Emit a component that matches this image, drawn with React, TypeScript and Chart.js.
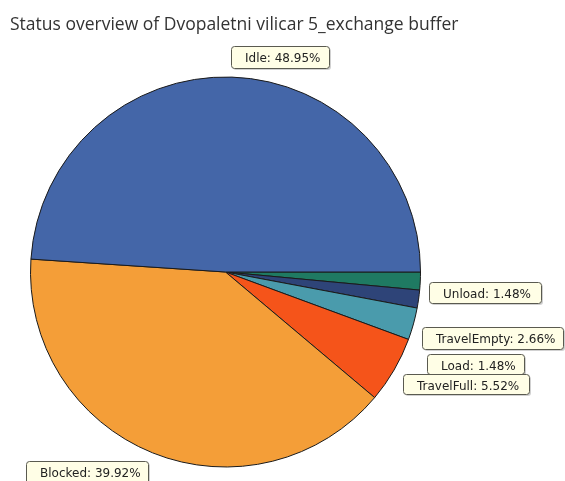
import React, { useEffect, useRef } from "react";
import { Chart, registerables } from "chart.js";

Chart.register(...registerables);

const TITLE = "Status overview of Dvopaletni vilicar 5_exchange buffer";
// clockwise from 3 o'clock
const categories = ["Unload", "Load", "TravelEmpty", "TravelFull", "Blocked", "Idle"];
const values = [1.48, 1.48, 2.66, 5.52, 39.92, 48.95];
const colors = ["#1f7a62", "#2e4478", "#4a9bac", "#f5541a", "#f49e38", "#4466a8"];
const labelText = ["Unload: 1.48%", "Load: 1.48%", "TravelEmpty: 2.66%", "TravelFull: 5.52%", "Blocked: 39.92%", "Idle: 48.95%"];
// label box positions (left, top, width, height)
const labelBoxes = [
  [429, 282, 112, 21],
  [427, 354, 97, 20],
  [422, 327, 141, 22],
  [403, 374, 126, 20],
  [26, 461, 122, 24],
  [231, 46, 98, 22],
];

function roundRect(ctx: CanvasRenderingContext2D, x: number, y: number, w: number, h: number, r: number) {
  ctx.beginPath();
  ctx.moveTo(x + r, y);
  ctx.lineTo(x + w - r, y);
  ctx.quadraticCurveTo(x + w, y, x + w, y + r);
  ctx.lineTo(x + w, y + h - r);
  ctx.quadraticCurveTo(x + w, y + h, x + w - r, y + h);
  ctx.lineTo(x + r, y + h);
  ctx.quadraticCurveTo(x, y + h, x, y + h - r);
  ctx.lineTo(x, y + r);
  ctx.quadraticCurveTo(x, y, x + r, y);
  ctx.closePath();
}

const overlayPlugin = {
  id: "overlay",
  afterDraw(chart: any) {
    const ctx: CanvasRenderingContext2D = chart.ctx;
    ctx.save();
    ctx.fillStyle = "#333333";
    ctx.font = "17.5px 'Open Sans', 'Noto Sans', sans-serif";
    ctx.textBaseline = "alphabetic";
    ctx.textAlign = "left";
    ctx.fillText(TITLE, 10, 29.5);
    ctx.font = "12px 'DejaVu Sans', sans-serif";
    labelBoxes.forEach((b, i) => {
      const [x, y, w, h] = b;
      // shadow
      ctx.fillStyle = "rgba(0,0,0,0.18)";
      roundRect(ctx, x + 2, y + 2, w, h, 3);
      ctx.fill();
      ctx.fillStyle = "#fffee6";
      roundRect(ctx, x + 0.5, y + 0.5, w, h, 3);
      ctx.fill();
      ctx.strokeStyle = "#5a5a50";
      ctx.lineWidth = 1;
      ctx.stroke();
      ctx.fillStyle = "#222222";
      ctx.textBaseline = "alphabetic";
      ctx.fillText(labelText[i], x + 14, y + 15.5);
    });
    ctx.restore();
  },
};

export default function App() {
  const ref = useRef<HTMLCanvasElement | null>(null);
  useEffect(() => {
    if (!ref.current) return;
    const chart = new Chart(ref.current, {
      type: "pie",
      data: {
        labels: categories,
        datasets: [
          {
            data: values,
            backgroundColor: colors,
            borderColor: "#1a1a1a",
            borderWidth: 1,
          },
        ],
      },
      options: {
        responsive: false,
        animation: false,
        rotation: 90,
        radius: 195,
        layout: { padding: { left: 30, right: 144, top: 77, bottom: 14 } },
        plugins: {
          legend: { display: false },
          tooltip: { enabled: false },
          title: { display: false },
        },
      },
      plugins: [overlayPlugin],
    });
    return () => chart.destroy();
  }, []);
  return (
    <div style={{ position: "fixed", left: 0, top: 0, width: 565, height: 481, background: "#ffffff" }}>
      <canvas ref={ref} width={565} height={481} style={{ display: "block" }} />
    </div>
  );
}
